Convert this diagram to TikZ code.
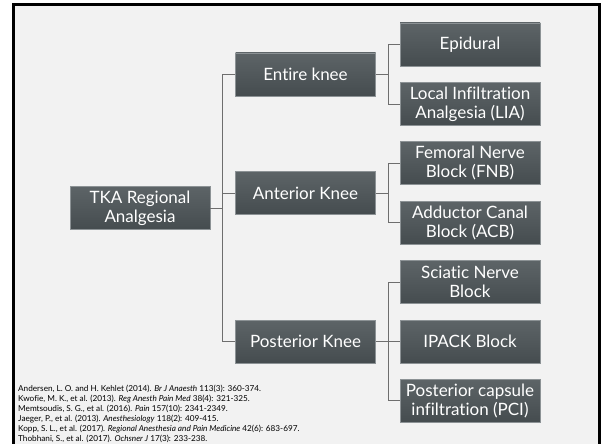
\documentclass[tikz,border=0pt]{standalone}
\usepackage{fontspec}
\setmainfont[Ligatures=NoCommon]{Lato}
\definecolor{boxtop}{HTML}{5D6467}
\definecolor{boxbot}{HTML}{454C4F}
\definecolor{boxedge}{HTML}{8C9295}
\definecolor{linegray}{HTML}{6E6E6E}
\definecolor{bg}{HTML}{F2F2F2}
\begin{document}
\begin{tikzpicture}[x=1pt,y=-1pt,
  box/.style={draw=boxedge, line width=0.8pt, top color=boxtop, bottom color=boxbot,
    text=white, minimum width=140pt, minimum height=43pt, inner sep=0pt,
    align=center, font=\fontsize{17}{19}\selectfont},
  conn/.style={draw=linegray, line width=1pt},
  refs/.style={anchor=north west, inner sep=0pt, align=left, font=\fontsize{8.2}{10}\selectfont, text=black}]
\useasboundingbox (0,0) rectangle (602,444);
\fill[white] (0,0) rectangle (602,444);
\fill[bg] (14,4.5) rectangle (600,444);
\draw[black, line width=3pt] (13.5,444) -- (13.5,4.5) -- (599.8,4.5) -- (599.8,444);

\node[box] (tka) at (140,208) {TKA Regional\\Analgesia};
\node[box] (entire) at (305.5,74.5) {Entire knee};
\node[box] (ant) at (305.5,193) {Anterior Knee};
\node[box] (post) at (305.5,341.7) {Posterior Knee};
\node[box] (epi) at (470,44.5) {Epidural};
\node[box] (lia) at (470,104.3) {Local Infiltration\\Analgesia (LIA)};
\node[box] (fnb) at (470,163) {Femoral Nerve\\Block (FNB)};
\node[box] (acb) at (470,222.5) {Adductor Canal\\Block (ACB)};
\node[box] (sci) at (470,282.3) {Sciatic Nerve\\Block};
\node[box] (ipack) at (470,341.7) {IPACK Block};
\node[box] (pci) at (470,400.7) {Posterior capsule\\infiltration (PCI)};

\coordinate (t1) at (222,0);
\coordinate (t2) at (388,0);
\draw[conn] (tka.east) -- (tka.east -| t1);
\draw[conn] (entire.west) -- (entire.west -| t1) -- (post.west -| t1) -- (post.west);
\draw[conn] (ant.west) -- (ant.west -| t1);
\draw[conn] (entire.east) -- (entire.east -| t2);
\draw[conn] (epi.west) -- (epi.west -| t2) -- (lia.west -| t2) -- (lia.west);
\draw[conn] (ant.east) -- (ant.east -| t2);
\draw[conn] (fnb.west) -- (fnb.west -| t2) -- (acb.west -| t2) -- (acb.west);
\draw[conn] (post.east) -- (ipack.west);
\draw[conn] (sci.west) -- (sci.west -| t2) -- (pci.west -| t2) -- (pci.west);

\node[refs] (refs) at (18,384.5) {Andersen, L. O. and H. Kehlet (2014). \textit{Br J Anaesth} 113(3): 360-374.\\
Kwofie, M. K., et al. (2013). \textit{Reg Anesth Pain Med} 38(4): 321-325.\\
Memtsoudis, S. G., et al. (2016). \textit{Pain} 157(10): 2341-2349.\\
Jaeger, P., et al. (2013). \textit{Anesthesiology} 118(2): 409-415.\\
Kopp, S. L., et al. (2017). \textit{Regional Anesthesia and Pain Medicine} 42(6): 683-697.\\
Thobhani, S., et al. (2017). \textit{Ochsner J} 17(3): 233-238.};
\end{tikzpicture}
\end{document}
